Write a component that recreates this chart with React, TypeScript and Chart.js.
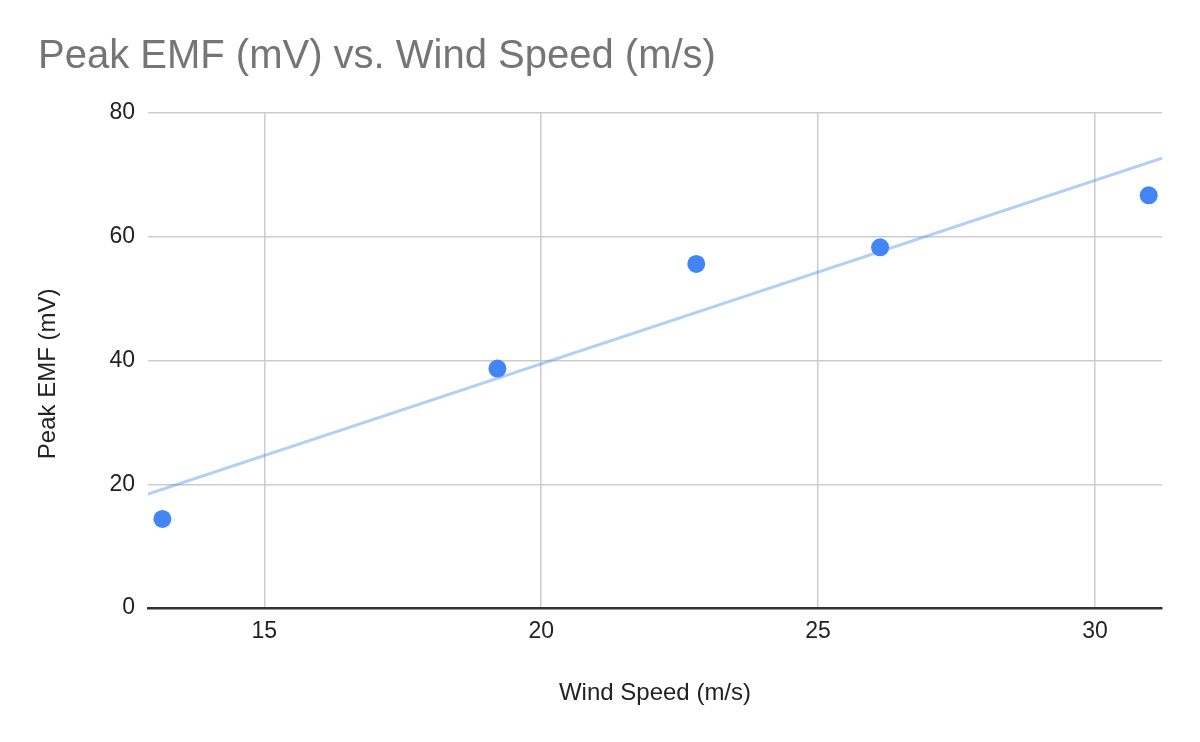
import { useEffect, useRef } from 'react';
import { Chart, registerables } from 'chart.js';

Chart.register(...registerables);

// Wind speed (m/s) and peak EMF (mV) readings
const windSpeed = [13.16, 19.21, 22.8, 26.12, 30.97];
const peakEmf = [14.4, 38.7, 55.6, 58.3, 66.7];

// Trendline end points
const trendX = [12.9, 31.21];
const trendY = [18.4, 72.7];

const xMin = 12.9;
const xMax = 31.21;
const yTicks = [0, 20, 40, 60, 80];
const xTicks = [15, 20, 25, 30];

const FONT = "Arial, 'Liberation Sans', sans-serif";

export default function App() {
  const chartRef = useRef<HTMLCanvasElement>(null);
  const chartInstance = useRef<Chart | null>(null);

  useEffect(() => {
    if (!chartRef.current) return;
    if (chartInstance.current) {
      chartInstance.current.destroy();
    }
    const ctx = chartRef.current.getContext('2d');
    if (!ctx) return;

    chartInstance.current = new Chart(ctx, {
      type: 'scatter',
      data: {
        datasets: [
          {
            label: 'Peak EMF (mV)',
            data: windSpeed.map((x, i) => ({ x, y: peakEmf[i] })),
            backgroundColor: '#4285f4',
            borderWidth: 0,
            pointRadius: 9,
            pointHoverRadius: 9,
            order: 0,
          },
          {
            label: 'Trendline',
            data: trendX.map((x, i) => ({ x, y: trendY[i] })),
            showLine: true,
            borderColor: 'rgba(66, 133, 244, 0.4)',
            borderWidth: 3,
            pointRadius: 0,
            fill: false,
            order: 1,
          },
        ],
      },
      options: {
        responsive: true,
        maintainAspectRatio: false,
        animation: false,
        layout: {
          padding: { left: 38, right: 38, top: 0, bottom: 0 },
        },
        scales: {
          x: {
            type: 'linear',
            min: xMin,
            max: xMax,
            afterFit: (scale) => {
              scale.height = 742 - 608;
            },
            afterBuildTicks: (scale) => {
              scale.ticks = xTicks.map((v) => ({ value: v }));
            },
            grid: {
              color: '#cccccc',
              lineWidth: 1.5,
              drawTicks: false,
            },
            border: {
              display: true,
              color: '#333333',
              width: 2.5,
            },
            ticks: {
              color: '#222222',
              padding: 10,
              font: { family: FONT, size: 23 },
            },
            title: {
              display: true,
              text: 'Wind Speed (m/s)',
              color: '#222222',
              font: { family: FONT, size: 24 },
              padding: { top: 0, bottom: 34 },
            },
          },
          y: {
            type: 'linear',
            min: 0,
            max: 80,
            afterFit: (scale) => {
              scale.width = 148 - 38;
            },
            afterBuildTicks: (scale) => {
              scale.ticks = yTicks.map((v) => ({ value: v }));
            },
            grid: {
              color: '#cccccc',
              lineWidth: 1.5,
              drawTicks: false,
            },
            border: {
              display: false,
            },
            ticks: {
              color: '#222222',
              padding: 13,
              font: { family: FONT, size: 23 },
            },
            title: {
              display: true,
              text: 'Peak EMF (mV)    ',
              color: '#222222',
              font: { family: FONT, size: 24 },
              padding: { top: -4, bottom: 0 },
            },
          },
        },
        plugins: {
          legend: { display: false },
          tooltip: { enabled: false },
          title: {
            display: true,
            text: 'Peak EMF (mV) vs. Wind Speed (m/s)',
            align: 'start',
            color: '#757575',
            font: { family: FONT, size: 40, weight: 'normal' },
            padding: { top: 33, bottom: 32 },
          },
        },
      },
    });

    return () => {
      if (chartInstance.current) {
        chartInstance.current.destroy();
        chartInstance.current = null;
      }
    };
  }, []);

  return (
    <div
      style={{
        position: 'fixed',
        left: 0,
        top: 0,
        width: 1200,
        height: 742,
        background: '#ffffff',
      }}
    >
      <canvas ref={chartRef}></canvas>
    </div>
  );
}
